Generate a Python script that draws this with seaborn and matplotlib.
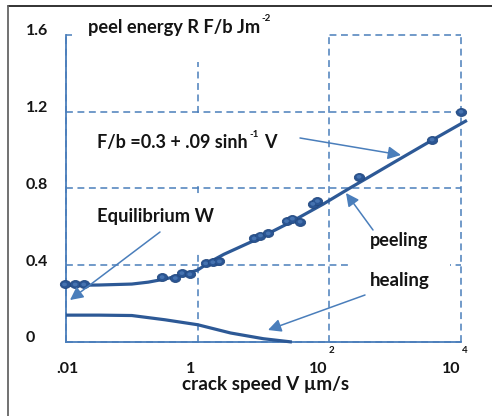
import numpy as np
import pandas as pd
import matplotlib
matplotlib.use("Agg")
import matplotlib.pyplot as plt
import matplotlib.transforms as mtransforms
from matplotlib.path import Path
from matplotlib.patches import Rectangle
from matplotlib.lines import Line2D
import seaborn as sns

# ---------------- data ----------------
peel_V = [0.0095, 0.0138, 0.0186, 0.288, 0.457, 0.575, 0.759, 1.32, 1.70, 2.14,
          7.2, 9.0, 11.8, 22.4, 27.5, 36.0, 56, 66, 282, 3630, 10000]
peel_R = [0.30, 0.30, 0.30, 0.338, 0.333, 0.359, 0.353, 0.41, 0.416, 0.42,
          0.54, 0.555, 0.566, 0.63, 0.643, 0.627, 0.72, 0.735, 0.861, 1.055, 1.20]

fit_V = [0.01, 0.0316, 0.1, 0.178, 0.316, 0.562, 1.0, 1.58, 2.5, 8.0, 25, 80,
         200, 400, 1000, 4000, 12300]
fit_R = [0.295, 0.297, 0.302, 0.312, 0.328, 0.348, 0.375, 0.42, 0.457, 0.536,
         0.622, 0.718, 0.80, 0.860, 0.94, 1.06, 1.155]

heal_V = [0.01, 0.0316, 0.1, 0.316, 1.0, 3.16, 10, 27]
heal_R = [0.14, 0.14, 0.138, 0.116, 0.09, 0.047, 0.017, 0.0]

y_ticks = [0, 0.4, 0.8, 1.2, 1.6]
y_labels = ["0", "0.4", "0.8", "1.2", "1.6"]
x_ticks = [0.01, 1, 100, 10000]
x_base = [".01", "1", "10", "10"]
x_sup = ["", "", "2", "4"]

y_title = "peel energy R F/b Jm"
y_title_sup = "-2"
x_title = "crack speed V \u00b5m/s"
formula_main = "F/b =0.3 + .09 sinh"
formula_sup = "-1"
formula_end = "V"
lbl_equil = "Equilibrium W"
lbl_peel = "peeling"
lbl_heal = "healing"

# ---------------- style ----------------
sns.set_style("white")
plt.rcParams["font.family"] = ["Lato", "DejaVu Sans"]
plt.rcParams["font.weight"] = "bold"

W, H = 492, 416
fig = plt.figure(figsize=(W / 100, H / 100), dpi=100)
# pixel coords (origin top-left) -> figure
T = mtransforms.Affine2D().scale(1 / W, -1 / H).translate(0, 1) + fig.transFigure

ax_l, ax_r, ax_t, ax_b = 66, 461, 35, 342
ax = fig.add_axes([ax_l / W, 1 - ax_b / H, (ax_r - ax_l) / W, (ax_b - ax_t) / H])

BLUE = "#4A7EBB"
DARK = "#2D5996"
TXT = "#141414"

df_fit = pd.DataFrame({"V": fit_V, "R": fit_R})
df_heal = pd.DataFrame({"V": heal_V, "R": heal_R})
df_pts = pd.DataFrame({"V": peel_V, "R": peel_R})

ax.set_xscale("log")
sns.lineplot(data=df_fit, x="V", y="R", ax=ax, color=DARK, lw=2.3, sort=False,
             estimator=None, zorder=3, clip_on=False, solid_capstyle="butt")
sns.lineplot(data=df_heal, x="V", y="R", ax=ax, color=DARK, lw=2.3, sort=False,
             estimator=None, zorder=3, clip_on=False, solid_capstyle="butt")

circ = Path.unit_circle()
ell = Path(circ.vertices * np.array([1.3, 1.0]), circ.codes)
sns.scatterplot(data=df_pts, x="V", y="R", ax=ax, marker=ell, s=55,
                color="#2A5593", edgecolor="#24497F", linewidth=0.6, zorder=4, clip_on=False)
sns.scatterplot(data=df_pts, x="V", y="R", ax=ax, marker=ell, s=12,
                color="#4673B0", edgecolor="none", linewidth=0, zorder=5, clip_on=False)

ax.set_xlim(0.01, 10000)
ax.set_ylim(0, 1.6)
ax.set_xticks(x_ticks)
ax.set_yticks(y_ticks)
ax.minorticks_off()
ax.tick_params(length=0, labelbottom=False, labelleft=False)
ax.set_xlabel("")
ax.set_ylabel("")
ax.set_axisbelow(True)
ax.grid(True, which="major", color=BLUE, lw=1.1, ls=(0, (4.5, 3)))
for gl in ax.get_xgridlines() + ax.get_ygridlines():
    gl.set_clip_on(False)
for s in ["top", "right"]:
    ax.spines[s].set_visible(False)
for s in ["left", "bottom"]:
    ax.spines[s].set_color(BLUE)
    ax.spines[s].set_linewidth(1.3)

# white text boxes hiding parts of the grid (as in the original)
for (x0, y0, x1, y1) in [(72, 8, 328, 62), (85, 117, 300, 186),
                         (85, 195, 225, 251), (352, 256, 450, 300)]:
    ax.add_patch(Rectangle((x0, y1), x1 - x0, y0 - y1, transform=T,
                           facecolor="white", edgecolor="none", zorder=1, clip_on=False))

fig.canvas.draw()
rend = fig.canvas.get_renderer()


def put(x, y, s, size=11, target_w=None, ha="left"):
    """Text at pixel position (x, baseline y from top)."""
    t = fig.text(x, H - y, s, transform=None, fontsize=size, fontweight="bold",
                 color=TXT, va="baseline", ha=ha)
    if target_w:
        w = t.get_window_extent(rend).width
        t.set_fontsize(size * target_w / w)
    return t


def right_edge(t):
    return t.get_window_extent(rend).x1


# y tick labels
for v, lab in zip(y_ticks, y_labels):
    ypix = H - ax.transData.transform((1, v))[1]
    put(26, ypix + 0.5, lab, size=11.5)

# x tick labels
x_dx = [1.5, -7, -11, -10]
for v, b, sp, dx in zip(x_ticks, x_base, x_sup, x_dx):
    xpix = ax.transData.transform((v, 1))[0]
    t = put(xpix + dx, 373, b, size=11.5, ha="center")
    if sp:
        put(right_edge(t) + 1.5, 353, sp, size=7)

# titles and labels
t = put(88, 33, y_title, target_w=172)
put(right_edge(t) + 1.5, 21, y_title_sup, size=7)

t = put(97, 148, formula_main, target_w=150)
t2 = put(right_edge(t) + 1.5, 137, formula_sup, size=7)
put(right_edge(t2) + 6, 148, formula_end, size=t.get_fontsize())

put(97, 222, lbl_equil, target_w=116)
put(370, 246, lbl_peel, target_w=58)
put(370, 286, lbl_heal, target_w=60)
put(266, 390, x_title, target_w=167, ha="center")

# arrows
for tail, head in [((300, 138), (401, 155)), ((373, 230), (346, 193)),
                   ((160, 232), (70, 300)), ((365, 295), (268, 330))]:
    ax.annotate("", xy=head, xycoords=T, xytext=tail, textcoords=T,
                arrowprops=dict(arrowstyle="-|>,head_length=0.6,head_width=0.3",
                                color=BLUE, lw=1.1, mutation_scale=13,
                                shrinkA=0, shrinkB=0), zorder=6)

# frame lines of the original screenshot
fig.add_artist(Line2D([8, W], [6, 6], transform=T, color="#222222", lw=1.3))
fig.add_artist(Line2D([8, 8], [6, H], transform=T, color="#666666", lw=1.3))

fig.savefig("out.png", dpi=100)
